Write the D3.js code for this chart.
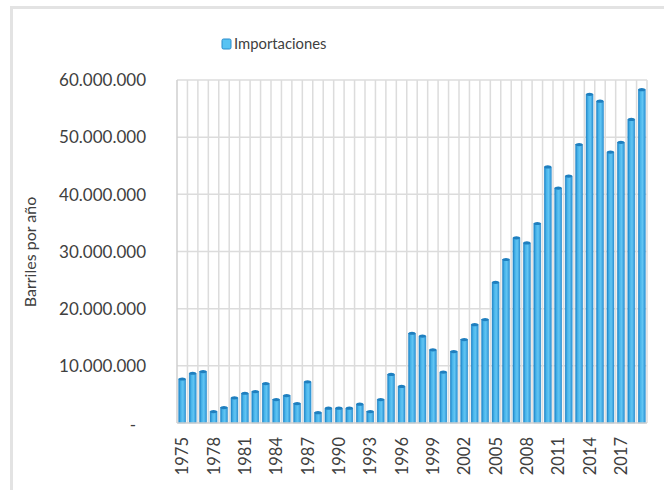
<!DOCTYPE html>
<html>
<head>
<meta charset="utf-8">
<script src="https://cdn.jsdelivr.net/npm/d3@7"></script>
<style>
  html, body { margin: 0; padding: 0; background: #fff; }
  svg { display: block; }
  text { font-family: Lato, "Open Sans", sans-serif; fill: #404040; }
</style>
</head>
<body>
<svg id="chart" width="664" height="490"></svg>
<script>
const years = d3.range(1975, 2020);
const importaciones = [
  7.7e6, 8.7e6, 9.0e6, 2.0e6, 2.7e6, 4.4e6, 5.2e6, 5.5e6, 6.9e6, 4.1e6,
  4.8e6, 3.4e6, 7.2e6, 1.8e6, 2.6e6, 2.6e6, 2.6e6, 3.3e6, 2.0e6, 4.1e6,
  8.5e6, 6.4e6, 15.7e6, 15.2e6, 12.8e6, 8.9e6, 12.5e6, 14.6e6, 17.2e6, 18.1e6,
  24.6e6, 28.6e6, 32.4e6, 31.5e6, 34.9e6, 44.8e6, 41.1e6, 43.2e6, 48.7e6, 57.5e6,
  56.3e6, 47.4e6, 49.1e6, 53.1e6, 58.3e6
];
const yTicks = [0, 10e6, 20e6, 30e6, 40e6, 50e6, 60e6];
const xTickLabels = years.filter(y => (y - 1975) % 3 === 0);
const seriesName = "Importaciones";
const yTitle = "Barriles por año";

const svg = d3.select("#chart");
const pL = 177, pR = 647, pT = 80, pB = 423;

// outer frame
svg.append("rect").attr("x", 11.5).attr("y", 7.5).attr("width", 700).attr("height", 600)
  .attr("fill", "none").attr("stroke", "#e3e3e3").attr("stroke-width", 3);

const defs = svg.append("defs");
const grad = defs.append("linearGradient").attr("id", "barGrad")
  .attr("x1", "0%").attr("x2", "100%").attr("y1", "0%").attr("y2", "0%");
grad.append("stop").attr("offset", "0%").attr("stop-color", "#1b82c6");
grad.append("stop").attr("offset", "30%").attr("stop-color", "#48b4ea");
grad.append("stop").attr("offset", "60%").attr("stop-color", "#62c5f3");
grad.append("stop").attr("offset", "100%").attr("stop-color", "#2c94d6");

const x = d3.scaleBand().domain(years).range([pL, pR])
  .paddingInner(0.33).paddingOuter(0.165);
const y = d3.scaleLinear().domain([0, 60e6]).range([pB, pT]);
const step = x.step();

// horizontal gridlines
svg.append("g").selectAll("line").data(yTicks.filter(d => d > 0)).join("line")
  .attr("x1", pL).attr("x2", pR)
  .attr("y1", d => y(d)).attr("y2", d => y(d))
  .attr("stroke", "#dcdcdc").attr("stroke-width", 1.5);

// vertical gridlines at category boundaries
svg.append("g").selectAll("line").data(years.slice(1)).join("line")
  .attr("x1", d => x(d) - step * x.paddingInner() / 2)
  .attr("x2", d => x(d) - step * x.paddingInner() / 2)
  .attr("y1", pT).attr("y2", pB)
  .attr("stroke", "#dcdcdc").attr("stroke-width", 1.5);

// plot border
svg.append("line").attr("x1", pL).attr("x2", pL).attr("y1", pT).attr("y2", pB)
  .attr("stroke", "#cfcfcf").attr("stroke-width", 1.5);
svg.append("line").attr("x1", pR).attr("x2", pR).attr("y1", pT).attr("y2", pB)
  .attr("stroke", "#dcdcdc").attr("stroke-width", 1.5);

// bars
const bars = svg.append("g").selectAll("g").data(years.map((yr, i) => ({yr, v: importaciones[i]}))).join("g");
bars.append("rect")
  .attr("x", d => x(d.yr)).attr("width", x.bandwidth())
  .attr("y", d => y(d.v)).attr("height", d => pB - y(d.v))
  .attr("fill", "url(#barGrad)")
  .attr("stroke", "#2a8ccc").attr("stroke-width", 0.5);
bars.append("ellipse")
  .attr("cx", d => x(d.yr) + x.bandwidth() / 2).attr("cy", d => y(d.v))
  .attr("rx", x.bandwidth() / 2).attr("ry", 1.6)
  .attr("fill", "#1f7fbf");

// x axis baseline
svg.append("line").attr("x1", pL).attr("x2", pR).attr("y1", pB).attr("y2", pB)
  .attr("stroke", "#cfcfcf").attr("stroke-width", 1.5);

// y axis labels
const loc = d3.formatLocale({decimal: ",", thousands: ".", grouping: [3], currency: ["", ""]});
const fmt = loc.format(",");
const yAxis = svg.append("g").attr("transform", `translate(${pL},0)`)
  .call(d3.axisLeft(y).tickValues(yTicks).tickSize(0).tickPadding(31)
    .tickFormat(d => d === 0 ? "-" : fmt(d)));
yAxis.select(".domain").remove();
yAxis.selectAll("text").style("font-size", "17px").attr("fill", "#404040")
  .attr("x", d => d === 0 ? -41 : -31).attr("dy", d => d === 0 ? "0.45em" : "0.34em");

// x axis labels
const xAxis = svg.append("g").attr("transform", `translate(0,${pB})`)
  .call(d3.axisBottom(x).tickValues(xTickLabels).tickSize(0));
xAxis.select(".domain").remove();
xAxis.selectAll("text").style("font-size", "16.5px").attr("fill", "#404040")
  .attr("transform", "rotate(-90)")
  .attr("text-anchor", "end").attr("x", -14).attr("y", 0).attr("dy", "0.36em");

// y title
svg.append("text").attr("transform", "translate(36,252) rotate(-90)")
  .attr("text-anchor", "middle").style("font-size", "16px").text(yTitle);

// legend
const lg = svg.append("g");
lg.append("rect").attr("x", 222).attr("y", 39).attr("width", 9).attr("height", 10).attr("rx", 1.5)
  .attr("fill", "#58c3f3").attr("stroke", "#2a8ccc").attr("stroke-width", 1);
lg.append("text").attr("x", 234).attr("y", 44).attr("dy", "0.35em")
  .style("font-size", "14.8px").text(seriesName);
</script>
</body>
</html>
